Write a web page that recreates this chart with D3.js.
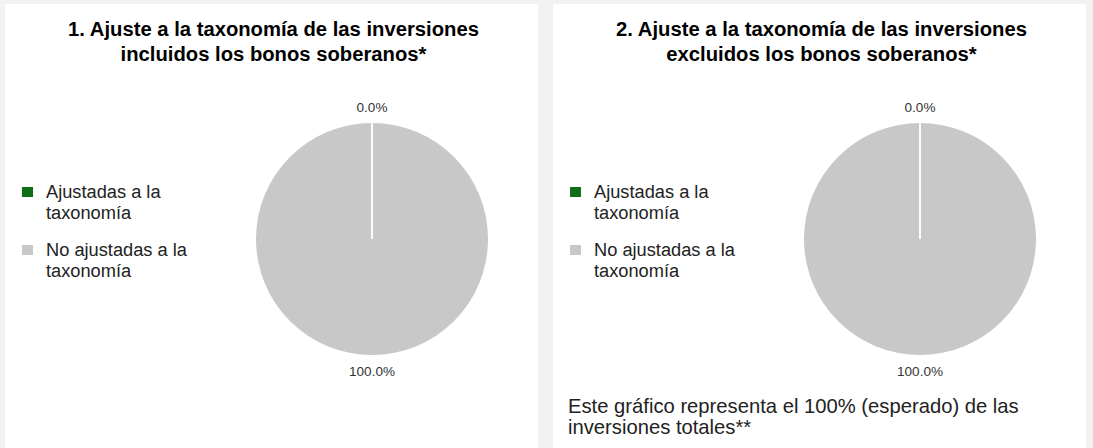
<!DOCTYPE html>
<html>
<head>
<meta charset="utf-8">
<script src="https://cdn.jsdelivr.net/npm/d3@7"></script>
<style>
  html, body { margin: 0; padding: 0; background: #f2f2f2; }
  svg { display: block; }
</style>
</head>
<body>
<svg id="chart" width="1093" height="448"></svg>
<script>
// ---- data ----
const categories = ["Ajustadas a la taxonomía", "No ajustadas a la taxonomía"];
const legendLines = [["Ajustadas a la", "taxonomía"], ["No ajustadas a la", "taxonomía"]];
const chart1Values = [0.0, 100.0];
const chart2Values = [0.0, 100.0];
const chartTitles = [
  ["1. Ajuste a la taxonomía de las inversiones", "incluidos los bonos soberanos*"],
  ["2. Ajuste a la taxonomía de las inversiones", "excluidos los bonos soberanos*"]
];
const footnoteLines = ["Este gráfico representa el 100% (esperado) de las", "inversiones totales**"];
const colors = ["#0f6e17", "#c8c8c8"];

// ---- layout ----
const FONT = "Liberation Sans, Arial, sans-serif";
const svg = d3.select("#chart");

// font size that makes a given string span a target pixel width
function fitSize(str, weight, targetW) {
  const t = svg.append("text").attr("font-family", FONT).attr("font-weight", weight)
    .attr("font-size", 100).text(str);
  const w = t.node().getComputedTextLength();
  t.remove();
  return 100 * targetW / w;
}
const titleSize = fitSize(chartTitles[0][0], "bold", 411);
const legendSize = fitSize(legendLines[1][0], "normal", 141);
const footSize = fitSize(footnoteLines[0], "normal", 451);
const labelSize = fitSize("100.0%", "normal", 46);

const panels = [
  { x: 5, w: 533, values: chart1Values, title: chartTitles[0], footnote: null },
  { x: 553, w: 533, values: chart2Values, title: chartTitles[1], footnote: footnoteLines }
];
const color = d3.scaleOrdinal().domain(categories).range(colors);
const pie = d3.pie().sort(null).value(d => d.value);
const R = 116;
const arc = d3.arc().innerRadius(0).outerRadius(R);
const fmt = d => d3.format(".1f")(d) + "%";

panels.forEach((p, i) => {
  const g = svg.append("g").attr("transform", `translate(${p.x},0)`);
  g.append("rect").attr("x", 0).attr("y", 4).attr("width", p.w).attr("height", 444).attr("fill", "#ffffff");

  // title
  const t = g.append("text")
    .attr("text-anchor", "middle")
    .attr("font-family", FONT)
    .attr("font-weight", "bold")
    .attr("font-size", titleSize)
    .attr("fill", "#000");
  p.title.forEach((line, k) => t.append("tspan").attr("x", p.w / 2 + 2).attr("y", 36 + k * 24.5).text(line));

  // legend
  const lg = g.append("g").attr("transform", `translate(17,0)`);
  categories.forEach((c, k) => {
    const y0 = 187 + k * 58;
    lg.append("rect").attr("x", 0).attr("y", y0).attr("width", 11).attr("height", 10).attr("fill", color(c));
    const tx = lg.append("text")
      .attr("font-family", FONT)
      .attr("font-size", legendSize)
      .attr("fill", "#222");
    legendLines[k].forEach((line, j) =>
      tx.append("tspan").attr("x", 24).attr("y", y0 + 11 + j * 21).text(line));
  });

  // pie
  const data = categories.map((c, k) => ({ cat: c, value: p.values[k] }));
  const arcs = pie(data);
  const cx = p.w / 2 + 100.5, cy = 239;
  const pg = g.append("g").attr("transform", `translate(${cx},${cy})`);
  pg.selectAll("path.slice").data(arcs).join("path")
    .attr("class", "slice")
    .attr("d", arc)
    .attr("fill", d => color(d.data.cat));
  // slice separators (white boundaries)
  pg.selectAll("line.sep").data(arcs).join("line")
    .attr("class", "sep")
    .attr("x1", 0).attr("y1", 0)
    .attr("x2", d => R * Math.sin(d.startAngle))
    .attr("y2", d => -R * Math.cos(d.startAngle))
    .attr("stroke", "#ffffff").attr("stroke-width", 1.5);
  // labels
  pg.selectAll("text.lbl").data(arcs).join("text")
    .attr("class", "lbl")
    .attr("transform", d => {
      const a = d.endAngle - d.startAngle === 0 ? d.startAngle : (d.startAngle + d.endAngle) / 2;
      const rr = R + 16;
      return `translate(${rr * Math.sin(a)},${-rr * Math.cos(a)})`;
    })
    .attr("text-anchor", "middle")
    .attr("dy", "0.35em")
    .attr("font-family", FONT)
    .attr("font-size", labelSize)
    .attr("fill", "#333")
    .text(d => fmt(d.data.value));

  // footnote
  if (p.footnote) {
    const ft = g.append("text")
      .attr("font-family", FONT)
      .attr("font-size", footSize)
      .attr("fill", "#222");
    p.footnote.forEach((line, j) =>
      ft.append("tspan").attr("x", 15).attr("y", 413 + j * 21).text(line));
  }
});
</script>
</body>
</html>
